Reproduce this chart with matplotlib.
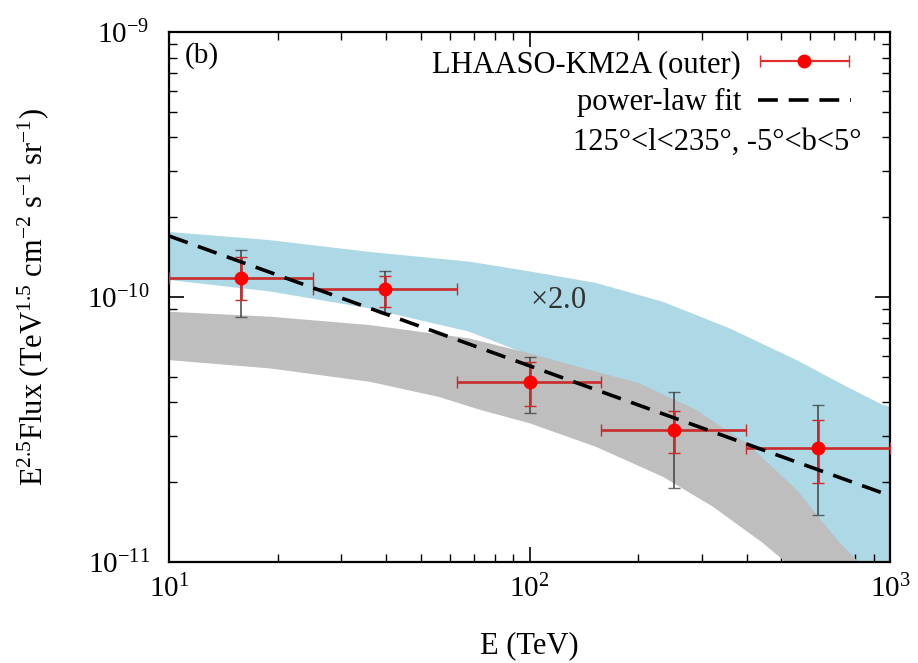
import numpy as np
import matplotlib
matplotlib.use("Agg")
import matplotlib.pyplot as plt
from matplotlib.container import ErrorbarContainer
from matplotlib.legend_handler import HandlerErrorbar
from matplotlib.ticker import LogLocator, LogFormatterMathtext, NullFormatter

# LHAASO-KM2A outer region points (E in TeV, E^2.5 flux)
E = [15.8, 39.8, 100.0, 251.0, 631.0]
E_lo = [10.0, 25.1, 63.1, 158.0, 398.0]
E_hi = [25.1, 63.1, 158.0, 398.0, 1000.0]
flux = [1.18e-10, 1.07e-10, 4.79e-11, 3.15e-11, 2.70e-11]
stat_hi = [1.41e-10, 1.20e-10, 5.67e-11, 3.72e-11, 3.44e-11]
stat_lo = [9.74e-11, 9.19e-11, 3.89e-11, 2.57e-11, 1.99e-11]
sys_hi = [1.51e-10, 1.25e-10, 5.96e-11, 4.40e-11, 3.91e-11]
sys_lo = [8.43e-11, 8.72e-11, 3.66e-11, 1.91e-11, 1.51e-11]

# power-law fit (straight line in log-log, endpoints)
fit_E = [10.0, 1000.0]
fit_F = [1.70e-10, 1.78e-11]

# light blue band (x2.0)
blue_top_E = [10, 19, 36, 68, 100, 153, 234, 359, 551, 758, 957, 1000]
blue_top_F = [1.76e-10, 1.64e-10, 1.48e-10, 1.36e-10, 1.25e-10, 1.13e-10, 9.6e-11,
              7.62e-11, 5.78e-11, 4.59e-11, 3.91e-11, 3.85e-11]
blue_bot_E = [10, 19, 36, 68, 100, 153, 234, 359, 551, 726, 850, 1000]
blue_bot_F = [1.16e-10, 1.05e-10, 9.06e-11, 7.40e-11, 6.04e-11, 4.5e-11, 3.5e-11,
              2.4e-11, 1.4e-11, 9.5e-12, 7e-12, 5e-12]

# gray band
gray_top_E = [10, 19, 36, 68, 100, 153, 202, 290, 400, 551, 726, 806, 850]
gray_top_F = [8.80e-11, 8.43e-11, 7.84e-11, 6.98e-11, 6.13e-11, 5.23e-11, 4.72e-11,
              3.75e-11, 2.81e-11, 1.87e-11, 1.18e-11, 1.02e-11, 9e-12]
gray_bot_E = [10, 19, 36, 56, 73, 100, 153, 234, 322, 444, 504, 540]
gray_bot_F = [5.78e-11, 5.38e-11, 4.79e-11, 4.20e-11, 3.75e-11, 3.34e-11, 2.72e-11,
              2.10e-11, 1.62e-11, 1.18e-11, 1.02e-11, 9e-12]

plt.rcParams["font.family"] = ["Liberation Serif", "DejaVu Serif"]
plt.rcParams["mathtext.fontset"] = "custom"
plt.rcParams["mathtext.rm"] = "Liberation Serif"
plt.rcParams["mathtext.it"] = "Liberation Serif:italic"
plt.rcParams["font.size"] = 22

fig = plt.figure(figsize=(9.18, 6.63), dpi=100)
ax = fig.add_axes([0.1841, 0.1523, 0.7854, 0.7994])

ax.fill(np.concatenate([blue_top_E, blue_bot_E[::-1]]),
        np.concatenate([blue_top_F, blue_bot_F[::-1]]),
        color="#add8e6", lw=0, zorder=1)
ax.fill(np.concatenate([gray_top_E, gray_bot_E[::-1]]),
        np.concatenate([gray_top_F, gray_bot_F[::-1]]),
        color="#bebebe", lw=0, zorder=2)

E = np.array(E)
flux = np.array(flux)
xerr = [E - np.array(E_lo), np.array(E_hi) - E]
ax.errorbar(E, flux, yerr=[flux - np.array(sys_lo), np.array(sys_hi) - flux],
            fmt="none", ecolor="#3a3a3a", alpha=0.75, elinewidth=1.4, capsize=4, zorder=3)
ax.errorbar(E, flux, xerr=xerr,
            yerr=[flux - np.array(stat_lo), np.array(stat_hi) - flux],
            fmt="o", color="red", ms=9, ecolor="#c92b2b", elinewidth=1.9,
            capsize=4, zorder=4)
ax.plot(fit_E, fit_F, color="black", ls=(0, (5.5, 3)), lw=2.6, zorder=5)

# legend proxies (horizontal bar only, as in the original key)
key_data = ax.errorbar([np.nan], [np.nan], xerr=[[np.nan], [np.nan]], fmt="o", color="red",
                       ms=9, ecolor="#e03030", elinewidth=1.6, capsize=4)
key_fit, = ax.plot([], [], color="black", ls=(0, (5.5, 3)), lw=2.6)

ax.text(0.540, 0.494, r"$\times$2.0", transform=ax.transAxes,
        ha="center", va="center", fontsize=22, color="#333333", zorder=6)
ax.text(0.022, 0.981, "(b)", transform=ax.transAxes, ha="left", va="top", fontsize=21)

ax.legend([key_data, key_fit], ["LHAASO-KM2A (outer)", "power-law fit"],
          loc="upper right", bbox_to_anchor=(0.946, 0.966), frameon=False,
          markerfirst=False, handlelength=3.05, handletextpad=0.55,
          labelspacing=0.3, borderpad=0.0, borderaxespad=0.0, fontsize=22,
          handler_map={ErrorbarContainer: HandlerErrorbar(xerr_size=1.45)})
ax.text(0.961, 0.792, "125°<l<235°, -5°<b<5°", transform=ax.transAxes,
        ha="right", va="center", fontsize=22)

ax.set_xscale("log")
ax.set_yscale("log")
ax.set_xlim(10, 1000)
ax.set_ylim(1e-11, 1e-9)
ax.xaxis.set_major_locator(LogLocator(base=10, numticks=5))
ax.yaxis.set_major_locator(LogLocator(base=10, numticks=5))
ax.xaxis.set_major_formatter(LogFormatterMathtext())
ax.yaxis.set_major_formatter(LogFormatterMathtext())
ax.xaxis.set_minor_formatter(NullFormatter())
ax.yaxis.set_minor_formatter(NullFormatter())
ax.tick_params(which="both", direction="in", top=True, right=True, labelsize=21)
ax.tick_params(which="major", length=11, width=1.2)
ax.tick_params(which="minor", length=5.5, width=1.0)
ax.tick_params(axis="x", which="major", pad=9)
ax.tick_params(axis="y", which="major", pad=14)
for s in ax.spines.values():
    s.set_linewidth(1.6)

ax.set_xlabel("E (TeV)", fontsize=22, labelpad=20)
ax.set_ylabel(r"E$^{2.5}$Flux (TeV$^{1.5}$ cm$^{-2}$ s$^{-1}$ sr$^{-1}$)", fontsize=22, labelpad=26)

fig.savefig("out.png", dpi=100)
